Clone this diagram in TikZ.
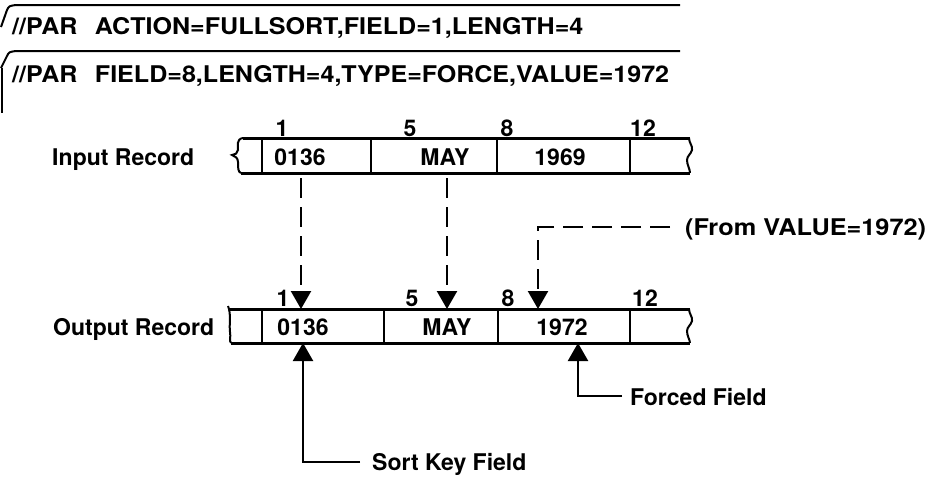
\documentclass[tikz,border=0pt]{standalone}
\usepackage{fontspec}
\usepackage{graphicx}
\setmainfont{TeX Gyre Heros}
\usetikzlibrary{arrows.meta}
\begin{document}
\begin{tikzpicture}[x=1pt,y=-1pt,
  lbl/.style={inner sep=0pt, anchor=base, font=\fontsize{23}{28}\selectfont\bfseries},
  lblw/.style={lbl, anchor=base west},
  heavy/.style={line width=3pt},
  divider/.style={line width=2pt},
  edge/.style={line width=2pt},
  dsh/.style={line width=2.4pt, dash pattern=on 20pt off 9pt},
  tip/.style={-{Triangle[width=20pt,length=18pt]}},
  solidarrow/.style={line width=2.2pt, -{Triangle[width=20pt,length=18pt]}},
]
\useasboundingbox (0,0) rectangle (936,479);
% parameter cards
\draw[edge] (1,27) -- (7,10) .. controls (9,6) .. (16,5) -- (680,5);
\draw[edge] (1,68) -- (7,56) .. controls (9,52) .. (16,51) -- (680,51);
\draw[line width=1.2pt] (2,68) -- (2,113);
\node[lblw] (par1) at (12,34) {\scalebox{1.09}[1]{//PAR\hspace{0.7em}ACTION=FULLSORT,FIELD=1,LENGTH=4}};
\node[lblw] (par2) at (12,82.5) {\scalebox{1.09}[1]{//PAR\hspace{0.7em}FIELD=8,LENGTH=4,TYPE=FORCE,VALUE=1972}};

% input record
\node[lblw] (inlbl) at (52,165.5) {Input Record};
\draw[heavy] (243,138) -- (690,138);
\draw[heavy] (241,173) -- (690,173);
\draw[edge] (243,138) .. controls (236,139) and (238,146) .. (238,150)
  .. controls (238,153) and (235,155) .. (232,155)
  .. controls (235,156) and (238,158) .. (238,162)
  .. controls (238,168) and (238,172) .. (241,173);
\draw[edge] (689,138) .. controls (689,143) and (693,146) .. (692,150)
  .. controls (691,154) and (687,156) .. (687,160)
  .. controls (687,165) and (690,169) .. (690,173);
\foreach \x in {262,371,497,630} \draw[divider] (\x,138) -- (\x,173);
\node[lbl] (in1) at (300,165) {0136};
\node[lbl] (in2) at (445,165) {MAY};
\node[lbl] (in3) at (560,165) {1969};
\node[lbl] (ip1) at (282,136.5) {1};
\node[lbl] (ip5) at (410,136.5) {5};
\node[lbl] (ip8) at (507,136.5) {8};
\node[lbl] (ip12) at (643,136.5) {12};

% output record
\node[lblw] (outlbl) at (53,335.5) {Output Record};
\draw[heavy] (229,309) -- (690,309);
\draw[heavy] (231,343) -- (690,343);
\draw[edge] (228,306) -- (229,309) .. controls (231,318) and (229,326) .. (230,332)
  .. controls (231,337) and (229,341) .. (231,343);
\draw[edge] (689,309) .. controls (689,314) and (693,317) .. (692,321)
  .. controls (691,325) and (687,327) .. (687,331)
  .. controls (687,336) and (690,340) .. (690,343);
\foreach \x in {262,384,498,630} \draw[divider] (\x,309) -- (\x,343);
\node[lbl] (out1) at (303,335) {0136};
\node[lbl] (out2) at (447,335) {MAY};
\node[lbl] (out3) at (562,335) {1972};
\node[lbl] (op1) at (283,306) {1};
\node[lbl] (op5) at (412,306) {5};
\node[lbl] (op8) at (508,306) {8};
\node[lbl] (op12) at (645,306) {12};

% named connector ends
\coordinate (aS) at (301,178);  \coordinate (aE) at (301,309);
\coordinate (bS) at (447,178);  \coordinate (bE) at (447,309);
\coordinate (cS) at (670,227);  \coordinate (cK) at (538,227); \coordinate (cE) at (538,309);
\node[lblw] (fromval) at (685,235) {\scalebox{1.1}[1]{(From VALUE=1972)}};

\draw[dsh,tip] (aS) -- (aE);
\draw[dsh,tip] (bS) -- (bE);
\draw[dsh,tip] (cS) -- (cK) -- (cE);

% annotations
\node[lblw] (forced) at (630,405) {Forced Field};
\node[lblw] (sortkey) at (372,470) {Sort Key Field};
\coordinate (fK) at (578,396); \coordinate (fE) at (578,343);
\coordinate (sK) at (303,462); \coordinate (sE) at (303,343);
\draw[solidarrow] ([xshift=-8pt]forced.west |- fK) -- (fK) -- (fE);
\draw[solidarrow] ([xshift=-12pt]sortkey.west |- sK) -- (sK) -- (sE);
\end{tikzpicture}
\end{document}
